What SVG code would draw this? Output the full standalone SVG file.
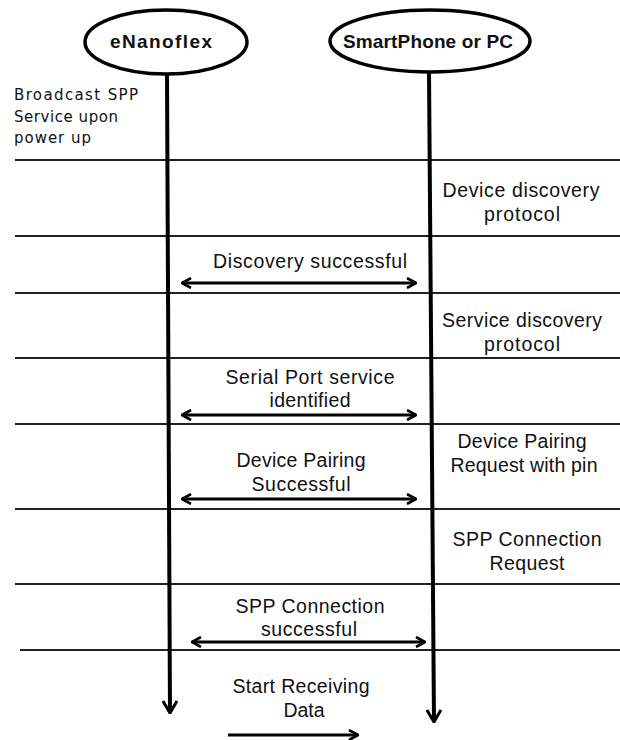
<svg xmlns="http://www.w3.org/2000/svg" width="620" height="740" viewBox="0 0 620 740">
<style>
.t{font-family:"Liberation Sans",Arial,sans-serif;font-size:19.5px;fill:#111;text-anchor:middle}
.h{font-family:"Liberation Sans",Arial,sans-serif;font-size:19px;font-weight:bold;fill:#111;text-anchor:middle}
.b{font-family:"DejaVu Sans",sans-serif;font-size:15px;fill:#111}
.sep{stroke:#222;stroke-width:2;fill:none}
.life{stroke:#000;stroke-width:4;fill:none}
.msg{stroke:#000;stroke-width:3;fill:none}
.ell{fill:#fff;stroke:#000;stroke-width:3.5}
</style>
<defs>
<marker id="ah" viewBox="0 0 12 12" refX="11" refY="6" markerWidth="12" markerHeight="12" markerUnits="userSpaceOnUse" orient="auto-start-reverse">
<path d="M2,1 L11,6 L2,11" fill="none" stroke="#000" stroke-width="2.6"/>
</marker>
<marker id="ahl" viewBox="0 0 16 16" refX="15" refY="8" markerWidth="16" markerHeight="16" markerUnits="userSpaceOnUse" orient="auto">
<path d="M3,1 L15,8 L3,15" fill="none" stroke="#000" stroke-width="3"/>
</marker>
</defs>
<g id="separators">
<line class="sep" x1="15" y1="160" x2="620" y2="160"/>
<line class="sep" x1="15" y1="236" x2="620" y2="236"/>
<line class="sep" x1="15" y1="293" x2="620" y2="293"/>
<line class="sep" x1="15" y1="358" x2="620" y2="358"/>
<line class="sep" x1="15" y1="424" x2="620" y2="424"/>
<line class="sep" x1="15" y1="509" x2="620" y2="509"/>
<line class="sep" x1="15" y1="584" x2="620" y2="584"/>
<line class="sep" x1="20" y1="650" x2="620" y2="650"/>
</g>
<g id="connectors">
<line class="life" x1="167" y1="74" x2="170" y2="713" marker-end="url(#ahl)"/>
<line class="life" x1="429" y1="72" x2="434" y2="722" marker-end="url(#ahl)"/>
<line class="msg" x1="182" y1="283" x2="416" y2="283" marker-start="url(#ah)" marker-end="url(#ah)"/>
<line class="msg" x1="182" y1="415" x2="416" y2="415" marker-start="url(#ah)" marker-end="url(#ah)"/>
<line class="msg" x1="182" y1="499" x2="416" y2="499" marker-start="url(#ah)" marker-end="url(#ah)"/>
<line class="msg" x1="192" y1="642" x2="425" y2="642" marker-start="url(#ah)" marker-end="url(#ah)"/>
<line class="msg" x1="228" y1="735" x2="358" y2="735" marker-end="url(#ah)"/>
</g>
<g id="eNanoflex">
<ellipse class="ell" cx="166" cy="42" rx="81" ry="32"/>
<text class="h" x="161" y="48" textLength="102">eNanoflex</text>
</g>
<g id="smartphone">
<ellipse class="ell" cx="430" cy="41" rx="100" ry="31"/>
<text class="h" x="428" y="48" textLength="170">SmartPhone or PC</text>
</g>
<g id="broadcast">
<text class="b" x="14" y="100" textLength="124">Broadcast SPP</text>
<text class="b" x="14" y="122" textLength="104">Service upon</text>
<text class="b" x="14" y="143" textLength="77">power up</text>
</g>
<g id="device-discovery">
<text class="t" x="521" y="197" textLength="157">Device discovery</text>
<text class="t" x="522" y="221" textLength="76">protocol</text>
</g>
<g id="discovery-successful">
<text class="t" x="310" y="268" textLength="194">Discovery successful</text>
</g>
<g id="service-discovery">
<text class="t" x="522" y="327" textLength="160">Service discovery</text>
<text class="t" x="522" y="351" textLength="76">protocol</text>
</g>
<g id="serial-port">
<text class="t" x="310" y="384" textLength="169">Serial Port service</text>
<text class="t" x="310" y="407" textLength="81">identified</text>
</g>
<g id="pairing-request">
<text class="t" x="522" y="448" textLength="129">Device Pairing</text>
<text class="t" x="524" y="472" textLength="147">Request with pin</text>
</g>
<g id="pairing-successful">
<text class="t" x="301" y="467" textLength="129">Device Pairing</text>
<text class="t" x="301" y="491" textLength="99">Successful</text>
</g>
<g id="spp-request">
<text class="t" x="527" y="546" textLength="149">SPP Connection</text>
<text class="t" x="527" y="570" textLength="75">Request</text>
</g>
<g id="spp-successful">
<text class="t" x="310" y="613" textLength="149">SPP Connection</text>
<text class="t" x="309" y="636" textLength="96">successful</text>
</g>
<g id="start-receiving">
<text class="t" x="301" y="693" textLength="137">Start Receiving</text>
<text class="t" x="304" y="717" textLength="41">Data</text>
</g>
</svg>
